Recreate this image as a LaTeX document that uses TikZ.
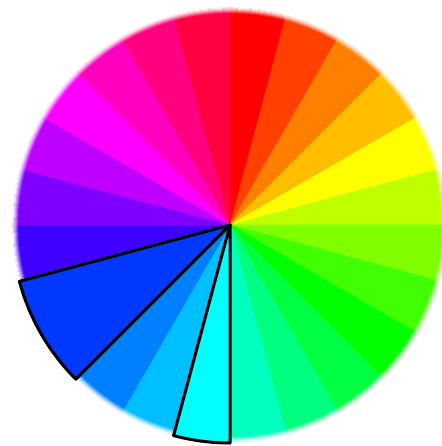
\documentclass[tikz,border=0pt]{standalone}
\usetikzlibrary{calc}
\tikzset{
  highlight/.style={draw=black, line width=3pt, line join=round},
}
\begin{document}
\begin{tikzpicture}[x=1pt,y=1pt]
\useasboundingbox (0,-446) rectangle (441,0);
\fill[white] (0,-446) rectangle (441,0);
\coordinate (C) at (230,-225);
\def\R{217}
\def\Rh{218}
% wheel segments
\foreach \i/\cr/\cg/\cb in {0/255/0/0, 1/255/64/0, 2/255/128/0, 3/255/191/0, 4/255/255/0, 5/191/255/0, 6/128/255/0, 7/64/255/0, 8/0/255/0, 9/0/255/64, 10/0/255/128, 11/0/255/191, 12/0/255/255, 13/0/191/255, 14/0/128/255, 15/0/64/255, 16/0/0/255, 17/64/0/255, 18/128/0/255, 19/191/0/255, 20/255/0/255, 21/255/0/191, 22/255/0/128, 23/255/0/64}{
  \pgfmathsetmacro{\a}{90-15*\i}
  \pgfmathsetmacro{\b}{75-15*\i}
  \definecolor{seg}{RGB}{\cr,\cg,\cb}
  \fill[seg, draw=seg, line width=0.6pt] (C) -- ++(\a:\R) arc[start angle=\a, end angle=\b, radius=\R] -- cycle;
}
% soft edge
\foreach \k in {0,...,5}{
  \pgfmathsetmacro{\op}{0.08+0.17*\k}
  \draw[white, opacity=\op, line width=1.2pt] (C) circle[radius=\R-5+\k];
}
% highlighted segments
\definecolor{hblue}{RGB}{0,56,255}
\fill[hblue] (C) -- ++(-135:\Rh) arc[start angle=-135, end angle=-165, radius=\Rh] -- cycle;
\draw[highlight] (C) -- ++(-135:\Rh) arc[start angle=-135, end angle=-165, radius=\Rh] -- cycle;
\definecolor{hcyan}{RGB}{0,255,255}
\fill[hcyan] (C) -- ++(-90:\Rh) arc[start angle=-90, end angle=-105, radius=\Rh] -- cycle;
\draw[highlight] (C) -- ++(-90:\Rh) arc[start angle=-90, end angle=-105, radius=\Rh] -- cycle;
\end{tikzpicture}
\end{document}
